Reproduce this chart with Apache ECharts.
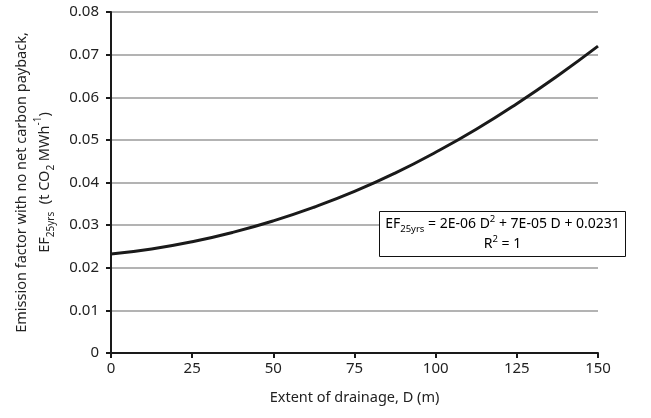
<!DOCTYPE html>
<html>
<head>
<meta charset="utf-8">
<script src="https://cdn.jsdelivr.net/npm/echarts@6/dist/echarts.min.js"></script>
<style>
  html, body { margin: 0; padding: 0; background: #fff; }
  #chart { width: 651px; height: 418px; }
</style>
</head>
<body>
<div id="chart"></div>
<script>
// 数据
const drainage = [0, 12.5, 25, 37.5, 50, 62.5, 75, 87.5, 100, 112.5, 125, 137.5, 150];
const emission = [0.0232, 0.0244, 0.0261, 0.0283, 0.0310, 0.0342, 0.0379, 0.0422, 0.0471, 0.0525, 0.0585, 0.0650, 0.0720];
const xTicks = [0, 25, 50, 75, 100, 125, 150];
const yTicks = [0, 0.01, 0.02, 0.03, 0.04, 0.05, 0.06, 0.07, 0.08];

const FONT = 'Noto Sans';
const chart = echarts.init(document.getElementById('chart'));

// 上下标样式
const rich = {
  a: { fontFamily: FONT, fontSize: 14.5, color: '#222', lineHeight: 23 },
  sub: { fontFamily: FONT, fontSize: 10, color: '#222', lineHeight: 12, verticalAlign: 'bottom' },
  sup: { fontFamily: FONT, fontSize: 10, color: '#222', lineHeight: 12, verticalAlign: 'top' }
};
const eqRich = {
  a: { fontFamily: FONT, fontSize: 14, color: '#111', lineHeight: 20 },
  sub: { fontFamily: FONT, fontSize: 9.5, color: '#111', lineHeight: 11, verticalAlign: 'bottom' },
  sup: { fontFamily: FONT, fontSize: 9.5, color: '#111', lineHeight: 11, verticalAlign: 'top' }
};

const option = {
  backgroundColor: '#fff',
  animation: false,
  grid: { left: 111, right: 53, top: 12, bottom: 65 },
  xAxis: {
    type: 'value',
    min: xTicks[0],
    max: xTicks[xTicks.length - 1],
    interval: 25,
    name: 'Extent of drainage, D (m)',
    nameLocation: 'middle',
    nameGap: 37,
    nameTextStyle: { fontFamily: FONT, fontSize: 14.5, color: '#222' },
    axisLine: { lineStyle: { color: '#1a1a1a', width: 2 } },
    axisTick: { show: true, length: 5, lineStyle: { color: '#1a1a1a', width: 2 } },
    axisLabel: { fontFamily: FONT, fontSize: 15, color: '#222', margin: 8 },
    splitLine: { show: false }
  },
  yAxis: {
    type: 'value',
    min: yTicks[0],
    max: yTicks[yTicks.length - 1],
    interval: 0.01,
    name: '{a|Emission factor with no net carbon payback,}\n{a|EF}{sub|25yrs}{a|  (t CO}{sub|2}{a| MWh}{sup|-1}{a|)}',
    nameLocation: 'middle',
    nameRotate: 90,
    nameGap: 55,
    nameTextStyle: { rich: rich, align: 'center' },
    axisLine: { show: true, lineStyle: { color: '#1a1a1a', width: 2 } },
    axisTick: { show: true, length: 5, lineStyle: { color: '#1a1a1a', width: 2 } },
    axisLabel: {
      fontFamily: FONT, fontSize: 15, color: '#222', margin: 12,
      formatter: v => v === 0 ? '0' : v.toFixed(2)
    },
    splitLine: { show: true, lineStyle: { color: '#9a9a9a', width: 1.5 } }
  },
  series: [{
    type: 'line',
    data: drainage.map((d, i) => [d, emission[i]]),
    smooth: true,
    showSymbol: false,
    lineStyle: { color: '#1a1a1a', width: 3 },
    z: 5
  }],
  // 趋势线公式框
  graphic: [{
    type: 'group',
    left: 379,
    top: 211,
    z: 100,
    children: [
      {
        type: 'rect',
        z: 100,
        shape: { x: 0, y: 0, width: 246, height: 45 },
        style: { fill: '#fff', stroke: '#111', lineWidth: 1 }
      },
      {
        type: 'text',
        z: 101,
        x: 123,
        y: 3,
        style: {
          text: '{a|EF}{sub|25yrs}{a| = 2E-06 D}{sup|2}{a| + 7E-05 D + 0.0231}\n{a|R}{sup|2}{a| = 1}',
          rich: eqRich,
          align: 'center'
        }
      }
    ]
  }]
};

chart.setOption(option);
window.addEventListener('resize', () => chart.resize());
</script>
</body>
</html>
